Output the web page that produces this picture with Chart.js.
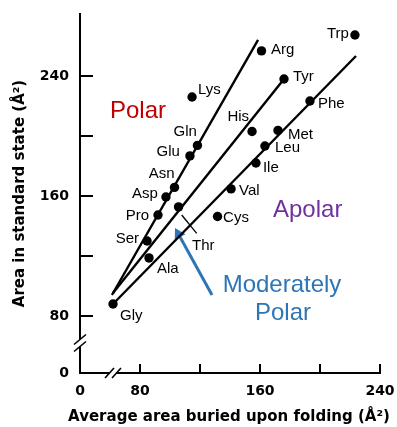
<!DOCTYPE html>
<html><head><meta charset="utf-8">
<script src="https://cdn.jsdelivr.net/npm/chart.js@4/dist/chart.umd.min.js"></script>
<style>html,body{margin:0;padding:0;background:#fff;overflow:hidden}</style>
</head><body>
<canvas id="c" width="397" height="427"></canvas>
<script>
// ---- data ----
const residues     = ['Gly','Ala','Ser','Pro','Asp','Asn','Thr','Glu','Gln','Lys','Cys','Val','His','Ile','Leu','Arg','Met','Tyr','Phe','Trp'];
const buriedArea   = [62, 86, 84.7, 92, 97.3, 103, 105.7, 113.3, 118.3, 114.7, 131.7, 140.7, 154.7, 157.3, 163.3, 161, 172, 176, 193.3, 223.3];
const standardArea = [88, 118.7, 130, 147.3, 159.3, 165.7, 152.7, 186.7, 193.7, 226, 146.3, 164.7, 203, 182, 193.3, 256.7, 203.7, 238, 223.3, 267.3];

const polarLineX    = [61.3, 158.7];
const polarLineY    = [94, 264];
const moderateLineX = [62, 176];
const moderateLineY = [95.3, 238];
const apolarLineX   = [62, 224];
const apolarLineY   = [88, 253.3];
const thrLeaderX    = [107.8, 117.8];
const thrLeaderY    = [147.3, 135.1];
const arrowX        = [128, 105.6];
const arrowY        = [94, 134.6];

const xTickValues = [40, 80, 120, 160, 200, 240];
const xTickLabels = ['0', '80', '', '160', '', '240'];
const yTickValues = [42, 80, 120, 160, 200, 240];
const yTickLabels = ['0', '80', '', '160', '', '240'];
const axisBreak = 62;

const xTitle = 'Average area buried upon folding (Å²)';
const yTitle = 'Area in standard state (Å²)';
const categories = ['Polar', 'Apolar', 'Moderately', 'Polar'];

// ---- label placement (pixel offsets from each point) ----
const labelOffsets = [
  [7, 12, 'left'],   // Gly
  [8, 11, 'left'],   // Ala
  [-8, -2, 'right'], // Ser
  [-9, 1, 'right'],  // Pro
  [-8, -3, 'right'], // Asp
  [0, -13.5, 'right'], // Asn
  [13.5, 39, 'left'],  // Thr
  [-10, -4, 'right'],  // Glu
  [-0.5, -13.5, 'right'], // Gln
  [6, -7, 'left'],   // Lys
  [5.5, 1.5, 'left'], // Cys
  [8, 2, 'left'],    // Val
  [-3, -14.5, 'right'], // His
  [7, 5, 'left'],    // Ile
  [10, 2, 'left'],   // Leu
  [9.5, -1, 'left'], // Arg
  [10, 4.5, 'left'], // Met
  [9, -2, 'left'],   // Tyr
  [8, 3, 'left'],    // Phe
  [-6, -1, 'right']  // Trp
];
const categoryStyle = [
  {color: '#c00000', x: 110, y: 118, align: 'left'},
  {color: '#7030a0', x: 273, y: 217, align: 'left'},
  {color: '#2e75b6', x: 282, y: 292, align: 'center'},
  {color: '#2e75b6', x: 283, y: 320, align: 'center'}
];

const pts = (xs, ys) => xs.map((v, i) => ({x: v, y: ys[i]}));

const annot = {
  id: 'annot',
  afterDatasetsDraw(chart) {
    const {ctx} = chart; const sx = chart.scales.x, sy = chart.scales.y;
    ctx.save();
    ctx.fillStyle = '#000';
    ctx.font = '15px "Liberation Sans", Arial, sans-serif';
    ctx.textBaseline = 'middle';
    residues.forEach((name, i) => {
      const [dx, dy, al] = labelOffsets[i];
      ctx.textAlign = al;
      ctx.fillText(name, sx.getPixelForValue(buriedArea[i]) + dx, sy.getPixelForValue(standardArea[i]) + dy);
    });
    ctx.font = '24px "Liberation Sans", Arial, sans-serif';
    ctx.textBaseline = 'alphabetic';
    categories.forEach((t, i) => {
      const s = categoryStyle[i];
      ctx.fillStyle = s.color; ctx.textAlign = s.align;
      ctx.fillText(t, s.x, s.y);
    });
    // x-axis title (wider than the axis, so drawn here without width clamp)
    ctx.fillStyle = '#000';
    ctx.font = 'bold 15px "DejaVu Sans", sans-serif';
    ctx.textAlign = 'center'; ctx.textBaseline = 'middle';
    ctx.fillText(xTitle, 229, 417);
    ctx.restore();
  },
  afterDraw(chart) {
    const {ctx, chartArea} = chart; const sx = chart.scales.x, sy = chart.scales.y;
    ctx.save();
    const x0 = chartArea.left, y0 = chartArea.bottom;
    const yb = sy.getPixelForValue(axisBreak), xb = sx.getPixelForValue(axisBreak);
    ctx.fillStyle = '#fff';
    ctx.fillRect(x0 - 3, yb - 3.5, 6, 7);
    ctx.fillRect(xb - 3.5, y0 - 3, 7, 6);
    ctx.strokeStyle = '#000'; ctx.lineWidth = 1.6;
    [-3.5, 3.5].forEach(d => {
      ctx.beginPath(); ctx.moveTo(x0 - 6, yb + d + 5); ctx.lineTo(x0 + 6, yb + d - 5); ctx.stroke();
      ctx.beginPath(); ctx.moveTo(xb + d - 4.5, y0 + 5); ctx.lineTo(xb + d + 4.5, y0 - 5); ctx.stroke();
    });
    ctx.restore();
  }
};

const arrowAngle = (c) => {
  if (c.dataIndex !== 1) return 0;
  const sx = c.chart.scales.x, sy = c.chart.scales.y;
  const dx = sx.getPixelForValue(arrowX[1]) - sx.getPixelForValue(arrowX[0]);
  const dy = sy.getPixelForValue(arrowY[1]) - sy.getPixelForValue(arrowY[0]);
  return Math.atan2(dx, -dy) * 180 / Math.PI;
};

const lineDs = (xs, ys, color, w) => ({
  data: pts(xs, ys), showLine: true, borderColor: color, borderWidth: w,
  pointRadius: 0, pointHoverRadius: 0, fill: false
});

const zeroPad = a => { a.paddingTop = 0; a.paddingBottom = 0; a.paddingLeft = 0; a.paddingRight = 0; };

new Chart(document.getElementById('c'), {
  type: 'scatter',
  data: {
    datasets: [
      {data: pts(buriedArea, standardArea), pointRadius: 4.7, pointBackgroundColor: '#000', pointBorderWidth: 0, showLine: false},
      lineDs(polarLineX, polarLineY, '#000', 2.4),
      lineDs(moderateLineX, moderateLineY, '#000', 2.4),
      lineDs(apolarLineX, apolarLineY, '#000', 2.4),
      lineDs(thrLeaderX, thrLeaderY, '#000', 1.3),
      {data: pts(arrowX, arrowY), showLine: true, borderColor: '#2e75b6', borderWidth: 3,
       pointRadius: [0, 7], pointStyle: 'triangle', pointBackgroundColor: '#2e75b6', pointBorderWidth: 0,
       rotation: arrowAngle}
    ]
  },
  options: {
    responsive: false, animation: false, devicePixelRatio: 1,
    layout: {padding: {left: 0, right: 17, top: 14, bottom: 0}},
    plugins: {legend: {display: false}, tooltip: {enabled: false}},
    scales: {
      x: {
        type: 'linear', position: 'bottom', min: 40, max: 240,
        afterBuildTicks: a => { a.ticks = xTickValues.map(v => ({value: v})); },
        afterFit: a => { a.height = 54; zeroPad(a); },
        ticks: {
          callback: v => xTickLabels[xTickValues.indexOf(v)],
          font: {family: '"DejaVu Sans"', weight: 'bold', size: 14}, color: '#000',
          padding: 19, maxRotation: 0, autoSkip: false
        },
        grid: {drawOnChartArea: false, drawTicks: true, tickLength: -9, lineWidth: 2,
               color: c => (c.tick && c.tick.value === 40) ? 'rgba(0,0,0,0)' : '#000'},
        border: {display: true, color: '#000', width: 2},
        title: {display: false}
      },
      y: {
        type: 'linear', position: 'left', min: 42, max: 281.3,
        afterBuildTicks: a => { a.ticks = yTickValues.map(v => ({value: v})); },
        afterFit: a => { a.width = 80; zeroPad(a); },
        ticks: {
          callback: v => yTickLabels[yTickValues.indexOf(v)],
          font: {family: '"DejaVu Sans"', weight: 'bold', size: 14}, color: '#000',
          padding: 24, autoSkip: false
        },
        grid: {drawOnChartArea: false, drawTicks: true, tickLength: -13, lineWidth: 2,
               color: c => (c.tick && c.tick.value === 42) ? 'rgba(0,0,0,0)' : '#000'},
        border: {display: true, color: '#000', width: 2},
        title: {display: true, text: yTitle, color: '#000',
                font: {family: '"DejaVu Sans"', weight: 'bold', size: 15}, padding: {top: 11.5, bottom: 0}}
      }
    }
  },
  plugins: [annot]
});
</script>
</body></html>
